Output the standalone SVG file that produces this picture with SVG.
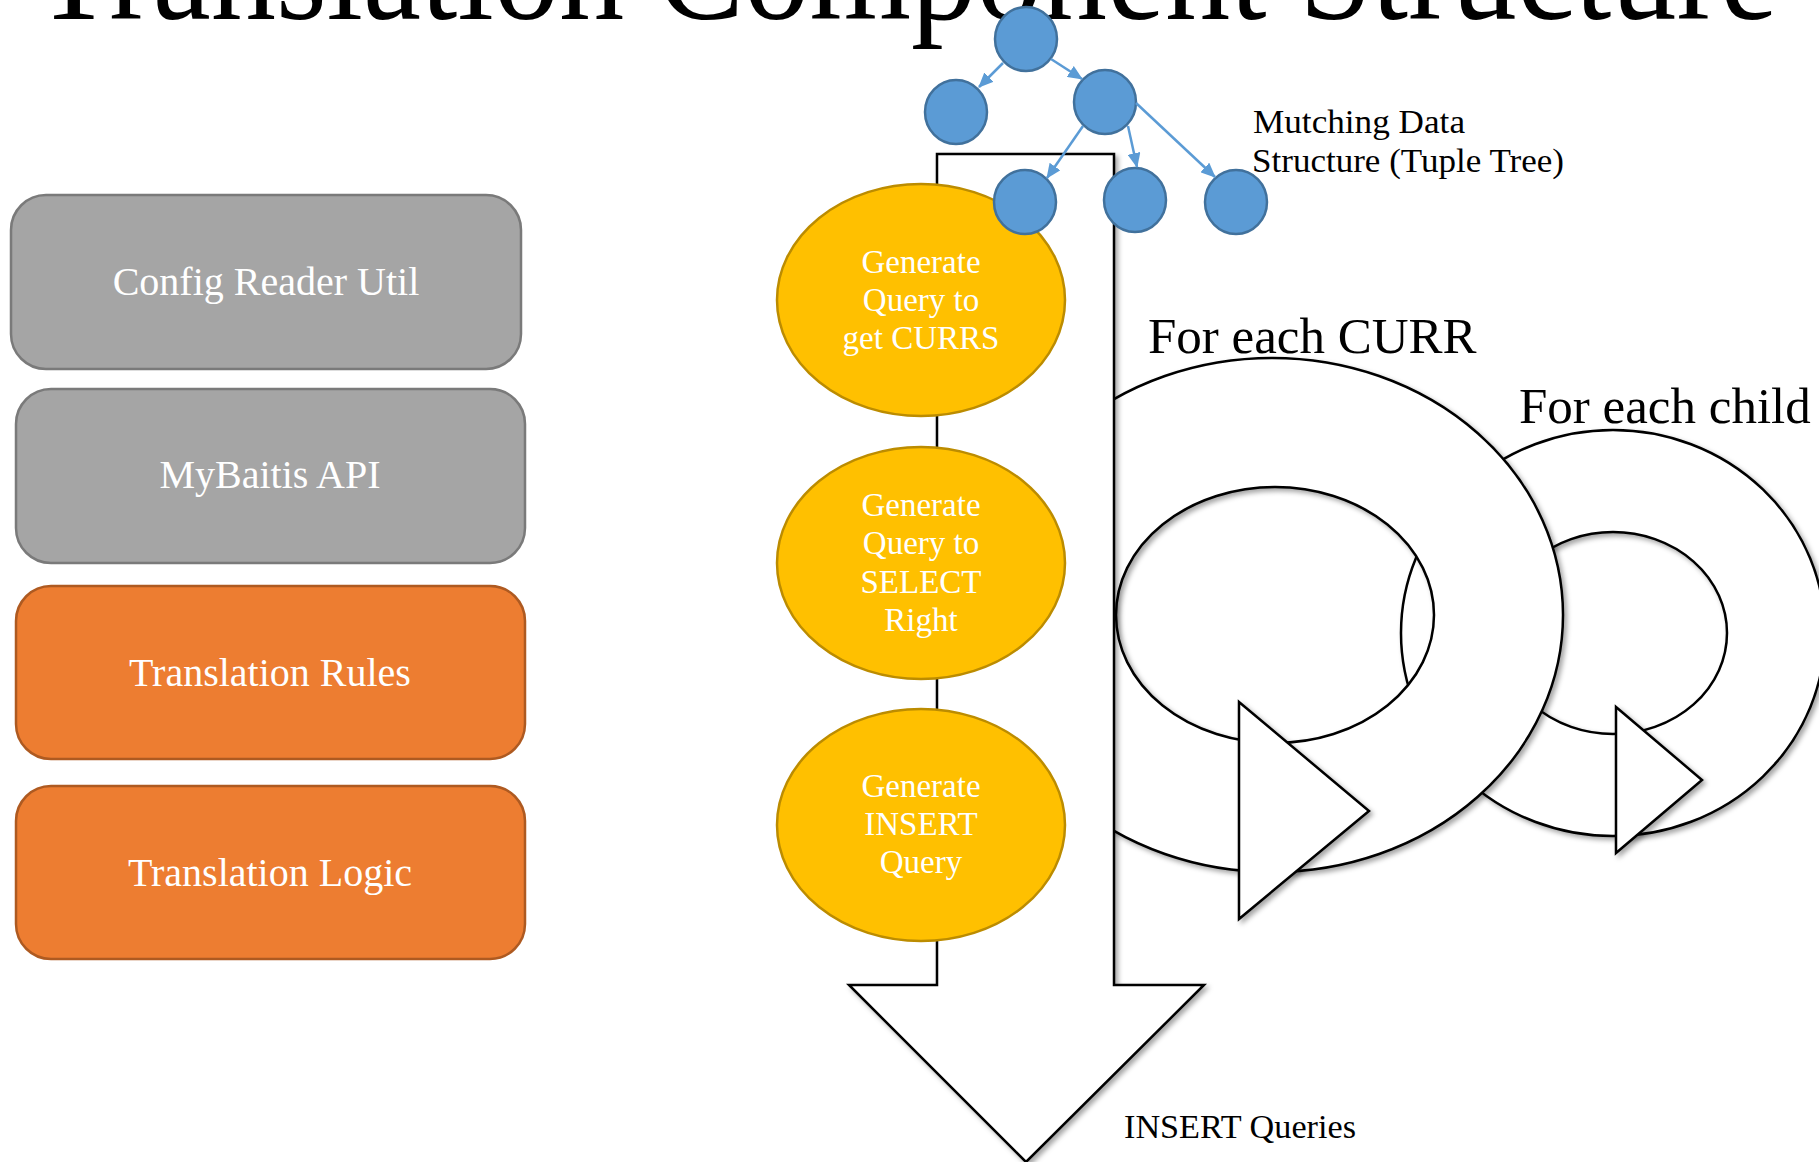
<svg xmlns="http://www.w3.org/2000/svg" width="1819" height="1162" viewBox="0 0 1819 1162">
<style>
  text { font-family: "Liberation Serif", "Times New Roman", serif; }
  .box-gray { fill: #A5A5A5; stroke: #7A7A7A; stroke-width: 2.5; }
  .box-orange { fill: #ED7D31; stroke: #AE5A21; stroke-width: 2.5; }
  .box-text { fill: #FFFFFF; font-size: 40px; text-anchor: middle; }
  .step { fill: #FFC000; stroke: #BC8C00; stroke-width: 2.5; }
  .step-text { fill: #FFFFFF; font-size: 33px; text-anchor: middle; }
  .tuple { fill: #5B9BD5; stroke: #41719C; stroke-width: 2.5; }
  .outline { fill: #FFFFFF; stroke: #000000; stroke-width: 2.5; filter: url(#shadow); }
  .edge { stroke: #5B9BD5; stroke-width: 2.5; fill: none; marker-end: url(#arrow); }
  .label { fill: #000000; font-size: 34px; }
  .big-label { fill: #000000; font-size: 51px; }
</style>
<defs>
  <filter id="shadow" x="-10%" y="-10%" width="120%" height="120%">
    <feDropShadow dx="3" dy="3" stdDeviation="2.5" flood-color="#000000" flood-opacity="0.35"/>
  </filter>
  <marker id="arrow" markerUnits="userSpaceOnUse" markerWidth="15" markerHeight="13" refX="14" refY="6.5" orient="auto">
    <path d="M0,0 L15,6.5 L0,13 Z" fill="#5B9BD5"/>
  </marker>
</defs>
<rect width="1819" height="1162" fill="#FFFFFF"/>

<g id="title">
  <text x="34" y="19" font-size="140" textLength="1744" lengthAdjust="spacingAndGlyphs" fill="#000000">Translation Component Structure</text>
</g>

<g id="config-reader-util">
  <rect class="box-gray" x="11" y="195" width="510" height="174" rx="35" ry="35"/>
  <text class="box-text" x="266" y="295">Config Reader Util</text>
</g>
<g id="mybaitis-api">
  <rect class="box-gray" x="16" y="389" width="509" height="174" rx="35" ry="35"/>
  <text class="box-text" x="270" y="488">MyBaitis API</text>
</g>
<g id="translation-rules">
  <rect class="box-orange" x="16" y="586" width="509" height="173" rx="35" ry="35"/>
  <text class="box-text" x="270" y="686">Translation Rules</text>
</g>
<g id="translation-logic">
  <rect class="box-orange" x="16" y="786" width="509" height="173" rx="35" ry="35"/>
  <text class="box-text" x="270" y="886">Translation Logic</text>
</g>

<g id="for-each-child">
  <path class="outline" fill-rule="evenodd" d="M1401,633 a212,203 0 1,0 424,0 a212,203 0 1,0 -424,0 Z M1499,633 a114,101 0 1,0 228,0 a114,101 0 1,0 -228,0 Z"/>
  <polygon class="outline" points="1616,707 1702,780 1616,853"/>
  <text class="big-label" x="1519" y="423">For each child</text>
</g>

<g id="for-each-curr">
  <path class="outline" fill-rule="evenodd" d="M981,615 a291,257 0 1,0 582,0 a291,257 0 1,0 -582,0 Z M1116,615 a159,128 0 1,0 318,0 a159,128 0 1,0 -318,0 Z"/>
  <polygon class="outline" points="1239,702 1369,811 1239,919"/>
  <text class="big-label" x="1148" y="353">For each CURR</text>
</g>

<g id="insert-queries">
  <path class="outline" d="M937,154 H1114 V985 H1204 L1026,1162 L849,985 H937 Z"/>
  <text class="label" x="1124" y="1138" textLength="232" lengthAdjust="spacingAndGlyphs">INSERT Queries</text>
</g>

<g id="step-get-currs">
  <ellipse class="step" cx="921" cy="300" rx="144" ry="116"/>
  <text class="step-text" x="921" y="273">Generate</text>
  <text class="step-text" x="921" y="311">Query to</text>
  <text class="step-text" x="921" y="349">get CURRS</text>
</g>
<g id="step-select-right">
  <ellipse class="step" cx="921" cy="563" rx="144" ry="116"/>
  <text class="step-text" x="921" y="516">Generate</text>
  <text class="step-text" x="921" y="554">Query to</text>
  <text class="step-text" x="921" y="593">SELECT</text>
  <text class="step-text" x="921" y="631">Right</text>
</g>
<g id="step-insert">
  <ellipse class="step" cx="921" cy="825" rx="144" ry="116"/>
  <text class="step-text" x="921" y="797">Generate</text>
  <text class="step-text" x="921" y="835">INSERT</text>
  <text class="step-text" x="921" y="873">Query</text>
</g>

<g id="tuple-tree">
  <ellipse id="tuple-root" class="tuple" cx="1026" cy="39" rx="31" ry="32"/>
  <ellipse id="tuple-left" class="tuple" cx="956" cy="112" rx="31" ry="32"/>
  <ellipse id="tuple-right" class="tuple" cx="1105" cy="102" rx="31" ry="32"/>
  <ellipse id="tuple-b1" class="tuple" cx="1025" cy="202" rx="31" ry="32"/>
  <ellipse id="tuple-b2" class="tuple" cx="1135" cy="200" rx="31" ry="32"/>
  <ellipse id="tuple-b3" class="tuple" cx="1236" cy="202" rx="31" ry="32"/>
  <text class="label" x="1253" y="133" textLength="212" lengthAdjust="spacingAndGlyphs">Mutching Data</text>
  <text class="label" x="1252" y="172" textLength="312" lengthAdjust="spacingAndGlyphs">Structure (Tuple Tree)</text>
</g>

<g id="connectors">
  <line class="edge" x1="1003" y1="63" x2="979" y2="87"/>
  <line class="edge" x1="1051" y1="59" x2="1082" y2="79"/>
  <line class="edge" x1="1083" y1="126" x2="1047" y2="178"/>
  <line class="edge" x1="1128" y1="126" x2="1137" y2="167"/>
  <line class="edge" x1="1136" y1="103" x2="1215" y2="177"/>
</g>
</svg>
